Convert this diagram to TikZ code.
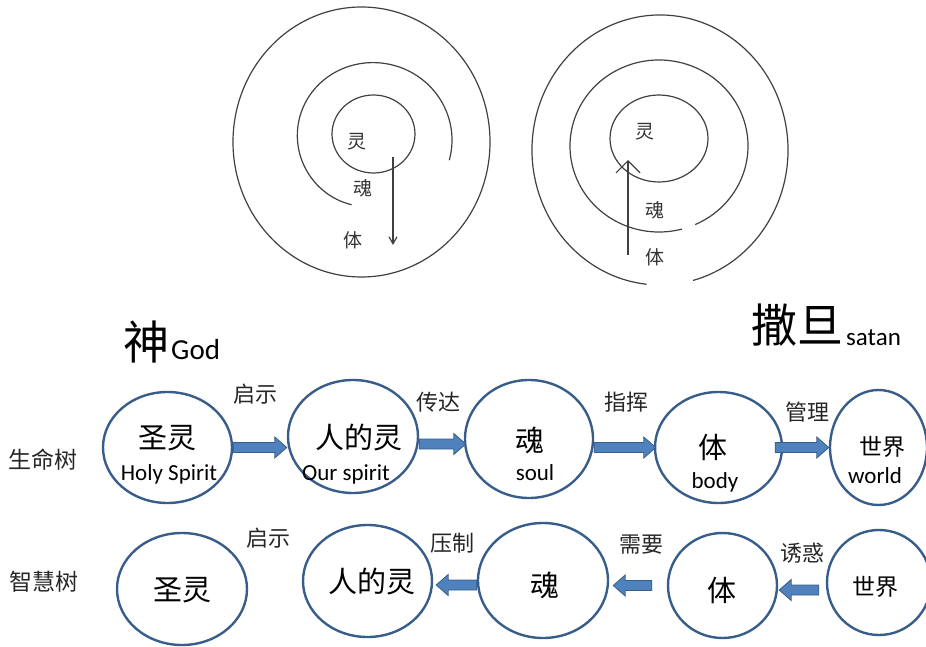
\documentclass[tikz,border=0pt]{standalone}
\usepackage{fontspec}
\setmainfont{Carlito}
\newfontfamily\cjk{Noto Sans CJK SC}
\usetikzlibrary{arrows.meta,shapes.geometric,calc}
\definecolor{arrowfill}{HTML}{4F81BD}
\definecolor{arrowline}{HTML}{385D8A}

\begin{document}
\begin{tikzpicture}[x=1pt,y=-1pt,
    ring/.style={draw=black!75,line width=1.2pt},
    soulnode/.style={ellipse,draw=arrowline,line width=2.4pt,inner sep=0pt},
    big/.style={font=\cjk\fontsize{29}{29}\selectfont,inner sep=0pt},
    verb/.style={font=\cjk\fontsize{22}{22}\selectfont,inner sep=0pt,text=black!85},
    eng/.style={font=\fontsize{23}{23}\selectfont,inner sep=0pt,anchor=base},
    core/.style={font=\cjk\fontsize{19}{19}\selectfont,inner sep=0pt,text=black!80}]
    \useasboundingbox (0,0) rectangle (926,647);
    \clip (0,0) rectangle (926,647);
    \def\blockArrow#1#2{
      \coordinate (ba) at #1;
      \coordinate (bb) at #2;
      \coordinate (bh) at ($(bb)!12pt!(ba)$);
      \filldraw[fill=arrowfill,draw=arrowline,line width=0.8pt]
        ($(ba)!5pt!90:(bb)$) -- ($(bh)!5pt!90:(bb)$) -- ($(bh)!10.5pt!90:(bb)$) -- (bb)
        -- ($(bh)!10.5pt!-90:(bb)$) -- ($(bh)!5pt!-90:(bb)$) -- ($(ba)!5pt!-90:(bb)$) -- cycle;
    }
    \def\topRings{
      % left rings
      \draw[ring] (361.5,142) ellipse [x radius=128.5,y radius=135];
      \draw[ring] plot[domain=15:-252,samples=80,smooth]
        ({372+(80-14*((15-\x)/267)^3)*cos(\x)},{140+(78-10*((15-\x)/267)^3)*sin(\x)});
      \draw[ring] (373.5,134) ellipse [x radius=41.5,y radius=39];
      \node[core] (ls) at (357,142) {灵};
      \node[core] (lm) at (363,188) {魂};
      \node[core] (lb) at (353,240) {体};
      \coordinate (ld1) at (393,157);
      \coordinate (ld2) at (393,245);
      \draw[ring,-{Straight Barb[length=7pt,width=8pt]}] (ld1) -- (ld2);
      % right rings
      \draw[ring] (660,150) ++(75:128 and 135)
        arc[start angle=75,end angle=-264,x radius=128,y radius=135];
      \draw[ring] (659,146) ++(66:89 and 86)
        arc[start angle=66,end angle=-285,x radius=89,y radius=86];
      \draw[ring] (659,138.5) ellipse [x radius=49,y radius=43.5];
      \node[core] (rs) at (645,132) {灵};
      \node[core] (rm) at (655,210) {魂};
      \node[core] (rb) at (655,257) {体};
      \coordinate (ru1) at (628,255);
      \coordinate (ru2) at (628,160);
      \draw[ring,-{Straight Barb[length=12pt,width=24pt]}] (ru1) -- (ru2);
    }
    \def\titles{
      \node[inner sep=0pt,font=\cjk\fontsize{46}{46}\selectfont] (god) at (146.5,341.5) {神};
      \node[inner sep=0pt,anchor=base west,font=\fontsize{29}{29}\selectfont] (godname) at (171,359) {God};
      \node[inner sep=0pt,font=\cjk\fontsize{46}{46}\selectfont] (satan) at (797,325) {撒旦};
      \node[inner sep=0pt,anchor=base west,font=\fontsize{25}{25}\selectfont] (satanname) at (846,345) {satan};
    }
    \def\lifeTree{
      \node[verb,font=\cjk\fontsize{23}{23}\selectfont] (life) at (43,460) {生命树};
      \node[soulnode,minimum width=129,minimum height=111] (l1) at (167.5,447.5) {};
      \node[soulnode,minimum width=130,minimum height=113] (l2) at (353,436.5) {};
      \node[soulnode,minimum width=128,minimum height=118] (l3) at (529,439) {};
      \node[soulnode,minimum width=127,minimum height=111] (l4) at (718.5,447.5) {};
      \node[soulnode,minimum width=97,minimum height=115] (l5) at (878.5,447.5) {};
      \node[big] (l1c) at (167,438) {圣灵};
      \node[big] (l2c) at (359,438) {人的灵};
      \node[big] (l3c) at (530,440) {魂};
      \node[big] (l4c) at (713,447) {体};
      \node[big,font=\cjk\fontsize{23}{23}\selectfont] (l5c) at (882,447) {世界};
      \node[eng] (l1e) at (169,480) {Holy Spirit};
      \node[eng] (l2e) at (346,480) {Our spirit};
      \node[eng] (l3e) at (535,480) {soul};
      \node[eng] (l4e) at (715,488) {body};
      \node[eng] (l5e) at (875,483) {world};
      \node[verb] (lv1) at (255,394) {启示};
      \node[verb] (lv2) at (438,402) {传达};
      \node[verb] (lv3) at (626,402) {指挥};
      \node[verb] (lv4) at (807,412) {管理};
      \blockArrow{(l1.east)}{(l2.west |- l1.east)}
      \blockArrow{($(l2.east)+(0,7.5)$)}{($(l3.west)+(2,5)$)}
      \blockArrow{(l3.east |- l4.west)}{($(l4.west)+(2,0)$)}
      \blockArrow{($(l4.east)+(-8,0)$)}{(l5.west |- l4.east)}
    }
    \def\wisdomTree{
      \node[verb,font=\cjk\fontsize{23}{23}\selectfont] (wisdom) at (44,582) {智慧树};
      \node[soulnode,minimum width=130,minimum height=112] (w1) at (182,589) {};
      \node[soulnode,minimum width=129,minimum height=112] (w2) at (367.5,581) {};
      \node[soulnode,minimum width=130,minimum height=115] (w3) at (543,580.5) {};
      \node[soulnode,minimum width=109,minimum height=105] (w4) at (722.5,585.5) {};
      \node[soulnode,minimum width=104,minimum height=105] (w5) at (879,582.5) {};
      \node[big] (w1c) at (182,590) {圣灵};
      \node[big] (w2c) at (372,582) {人的灵};
      \node[big] (w3c) at (545,585) {魂};
      \node[big] (w4c) at (722,590) {体};
      \node[big,font=\cjk\fontsize{23}{23}\selectfont] (w5c) at (875,587) {世界};
      \node[verb] (wv1) at (268,538) {启示};
      \node[verb] (wv2) at (452,543) {压制};
      \node[verb] (wv3) at (641,545) {需要};
      \node[verb] (wv4) at (802,553) {诱惑};
      \blockArrow{($(w3.west)+(0,4.5)$)}{($(w2.east |- w3.west)+(3,4.5)$)}
      \blockArrow{($(w4.west)+(-15,0)$)}{($(w3.east |- w4.west)+(4,0)$)}
      \blockArrow{($(w5.west)+(-7,7.5)$)}{($(w4.east)+(1,4.5)$)}
    }
    \topRings
    \titles
    \lifeTree
    \wisdomTree
  \end{tikzpicture}
\end{document}
